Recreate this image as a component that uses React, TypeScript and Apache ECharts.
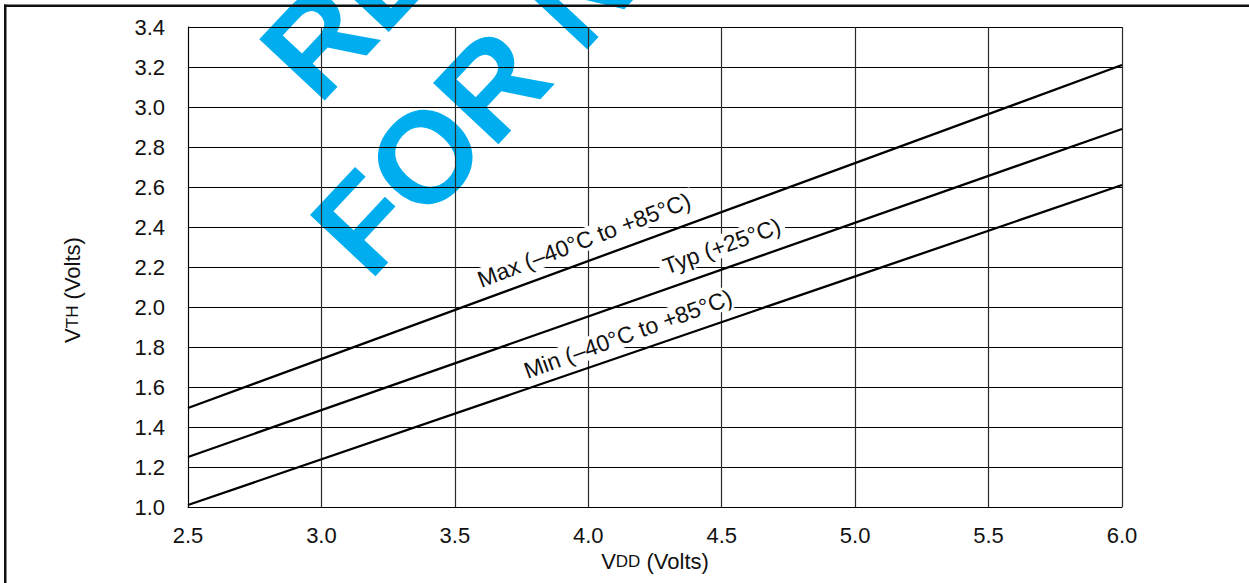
import React, { useEffect, useRef } from "react";
import * as echarts from "echarts";

const FONT = '"Liberation Sans", Arial, Helvetica, sans-serif';

const xTicks = [2.5, 6.0, 0.5];
const yTicks = [1.0, 3.4, 0.2];

const maxSeries: [number, number][] = [[2.5, 1.495], [6.0, 3.21]];
const typSeries: [number, number][] = [[2.5, 1.25], [6.0, 2.89]];
const minSeries: [number, number][] = [[2.5, 1.01], [6.0, 2.61]];

const maxLabel = { text: "Max (\u201340\u00b0C to +85\u00b0C)", coord: [3.984, 2.335], rotate: 21 };
const typLabel = { text: "Typ (+25\u00b0C)", coord: [4.5, 2.305], rotate: 20 };
const minLabel = { text: "Min (\u201340\u00b0C to +85\u00b0C)", coord: [4.149, 1.865], rotate: 20 };

const watermarkLines = ["NOT", "RECOMMENDED", "FOR NEW DESIGNS"];

function makeSeries(name: string, data: [number, number][], lab: { text: string; coord: number[]; rotate: number }) {
  return {
    name,
    type: "line",
    data,
    showSymbol: false,
    symbol: "none",
    lineStyle: { color: "#000", width: 2.3 },
    z: 3,
    markPoint: {
      symbol: "circle",
      symbolSize: 0,
      silent: true,
      z: 5,
      label: {
        show: true,
        position: "inside",
        formatter: lab.text,
        rotate: lab.rotate,
        color: "#111",
        fontFamily: FONT,
        fontSize: 23,
        backgroundColor: "#fff",
        padding: [0, 4],
      },
      data: [{ coord: lab.coord }],
    },
  };
}

export default function App() {
  const ref = useRef<HTMLDivElement>(null);
  useEffect(() => {
    if (!ref.current) return;
    const chart = echarts.init(ref.current, undefined, { renderer: "svg" });
    const rot = (47 * Math.PI) / 180;
    const lineGap = 157;
    const option: any = {
      animation: false,
      backgroundColor: "#fff",
      textStyle: { fontFamily: FONT },
      grid: {
        left: 188,
        top: 27,
        width: 934,
        height: 480,
        containLabel: false,
        outerBoundsMode: "none",
      },
      xAxis: {
        type: "value",
        min: xTicks[0],
        max: xTicks[1],
        interval: xTicks[2],
        axisLine: { show: true, lineStyle: { color: "#000", width: 1 } },
        axisTick: { show: false },
        splitLine: { show: true, lineStyle: { color: "#2a2a2a", width: 1.2 } },
        axisLabel: {
          color: "#111",
          fontSize: 22,
          fontFamily: FONT,
          margin: 17,
          formatter: (v: number) => v.toFixed(1),
        },
        name: "{a|V}{b|DD}{a| (Volts)}",
        nameLocation: "middle",
        nameGap: 42,
        nameTextStyle: {
          rich: {
            a: { fontSize: 22, color: "#111", fontFamily: FONT },
            b: { fontSize: 17, color: "#111", fontFamily: FONT },
          },
        },
      },
      yAxis: {
        type: "value",
        min: yTicks[0],
        max: yTicks[1],
        interval: yTicks[2],
        axisLine: { show: true, lineStyle: { color: "#000", width: 1 } },
        axisTick: { show: false },
        splitLine: { show: true, lineStyle: { color: "#000", width: 1 } },
        axisLabel: {
          color: "#111",
          fontSize: 22,
          fontFamily: FONT,
          margin: 23,
          formatter: (v: number) => v.toFixed(1),
        },
        name: "{a|V}{b|TH}{a| (Volts)}{s|}",
        nameLocation: "middle",
        nameRotate: 90,
        nameGap: 105,
        nameTextStyle: {
          rich: {
            a: { fontSize: 22, color: "#111", fontFamily: FONT },
            b: { fontSize: 17, color: "#111", fontFamily: FONT },
            s: { width: 46, fontSize: 22 },
          },
        },
      },
      graphic: [
        {
          type: "group",
          x: 791,
          y: -168.5,
          rotation: rot,
          z: -10,
          silent: true,
          children: watermarkLines.map((t, i) => ({
            type: "text",
            x: 0,
            y: -45.5 - (2 - i) * lineGap,
            z: -10,
            style: {
              text: t,
              font: `bold 130px ${FONT}`,
              fill: "#00aeef",
              textAlign: "center",
              textVerticalAlign: "middle",
              align: "center",
              verticalAlign: "middle",
            },
          })),
        },
        {
          type: "rect",
          z: 20,
          silent: true,
          shape: { x: 4, y: 4.5, width: 1245, height: 2.5 },
          style: { fill: "#111", stroke: "none" },
        },
        {
          type: "rect",
          z: 20,
          silent: true,
          shape: { x: 4, y: 4.5, width: 2.5, height: 578.5 },
          style: { fill: "#111", stroke: "none" },
        },
      ],
      series: [
        makeSeries("Max", maxSeries, maxLabel),
        makeSeries("Typ", typSeries, typLabel),
        makeSeries("Min", minSeries, minLabel),
      ],
    };
    chart.setOption(option);
    return () => chart.dispose();
  }, []);
  return (
    <div style={{ position: "fixed", left: 0, top: 0, width: 1249, height: 583 }}>
      <div
        ref={ref}
        style={{ position: "absolute", left: 0, top: 0, width: 1249, height: 583, background: "#fff" }}
      />
      <div
        style={{
          position: "absolute",
          left: 4,
          top: 5,
          width: 1245,
          height: 2,
          background: "#111",
          zIndex: 10,
          pointerEvents: "none",
        }}
      />
    </div>
  );
}
